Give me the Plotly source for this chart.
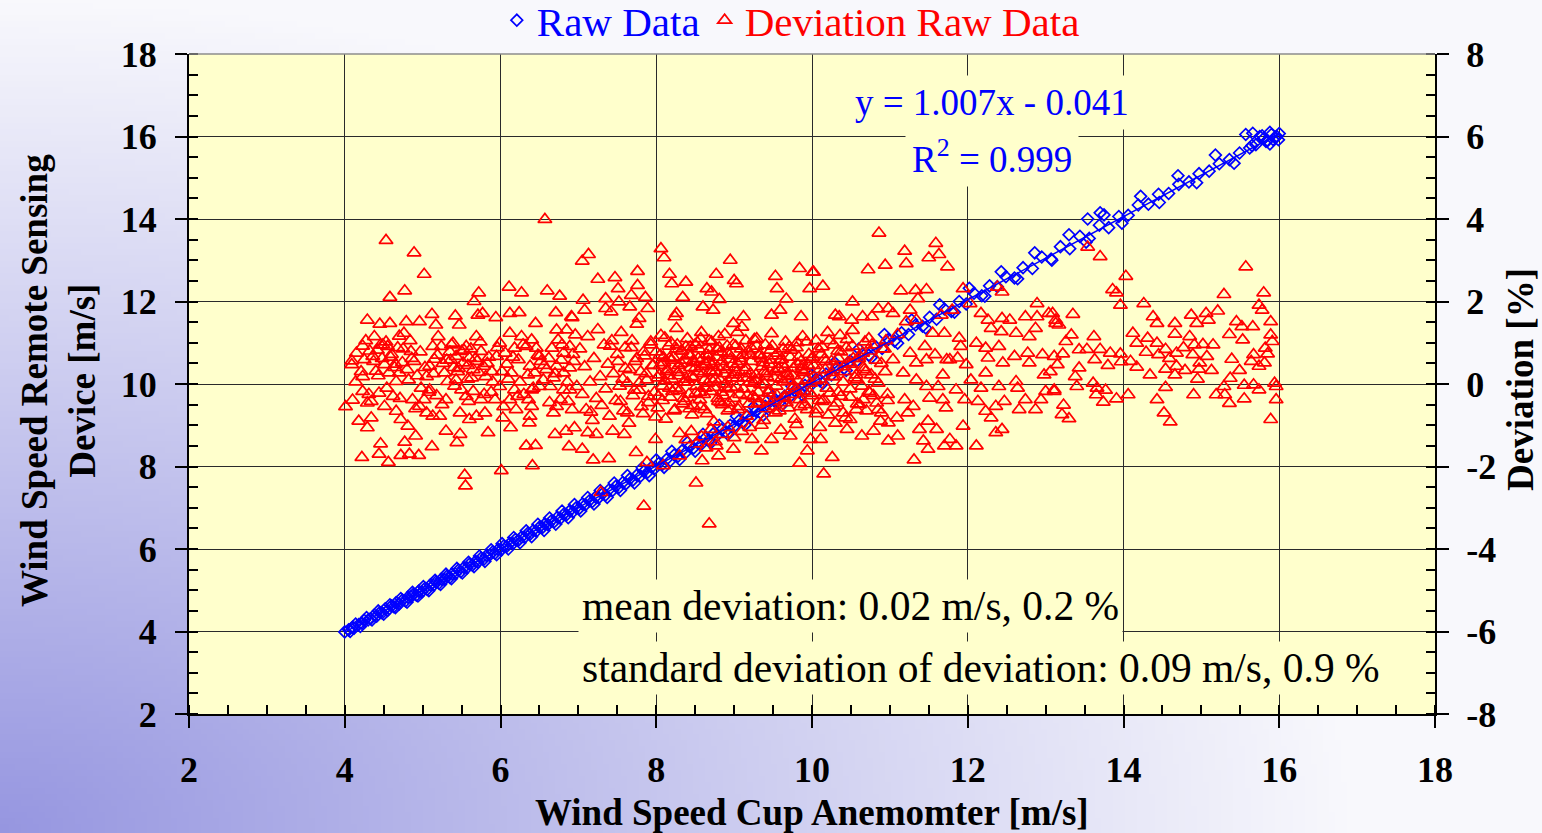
import base64
import struct
import zlib
import plotly.graph_objects as go

# ------------------------------------------------------------------ data
# Raw data: cup anemometer speed (x) vs remote sensing device speed (y), m/s
raw_x = [
    4.00, 4.05, 4.10, 4.12, 4.18, 4.22, 4.25, 4.30, 4.33, 4.38,
    4.41, 4.45, 4.48, 4.52, 4.55, 4.60, 4.63, 4.66, 4.70, 4.74,
    4.78, 4.81, 4.85, 4.88, 4.92, 4.95, 4.99, 5.03, 5.06, 5.10,
    5.14, 5.17, 5.21, 5.24, 5.28, 5.31, 5.35, 5.38, 5.42, 5.46,
    5.49, 5.53, 5.57, 5.60, 5.64, 5.68, 5.71, 5.75, 5.79, 5.82,
    5.86, 5.90, 5.93, 5.97, 6.01, 6.04, 6.08, 6.12, 6.16, 6.19,
    6.23, 6.27, 6.31, 6.35, 6.38, 6.42, 6.46, 6.50, 6.54, 6.57,
    6.61, 6.65, 6.69, 6.73, 6.77, 6.81, 6.85, 6.89, 6.93, 6.97,
    7.01, 7.05, 7.09, 7.14, 7.18, 7.22, 7.26, 7.31, 7.35, 7.39,
    7.44, 7.48, 7.52, 7.57, 7.61, 7.66, 7.70, 7.75, 7.80, 7.84,
    7.89, 7.94, 7.98, 8.03, 8.08, 8.13, 8.18, 8.23, 8.28, 8.33,
    8.38, 8.43, 8.48, 8.53, 8.58, 8.63, 8.68, 8.73, 8.78, 8.84,
    8.89, 8.95, 9.00, 9.06, 9.11, 9.17, 9.22, 9.28, 9.34, 9.40,
    9.46, 9.52, 9.58, 9.65, 9.71, 9.78, 9.84, 9.91, 9.97, 10.04,
    10.10, 10.18, 10.25, 10.33, 10.41, 10.49, 10.57, 10.65, 10.73, 10.82,
    10.90, 10.98, 11.06, 11.15, 11.24, 11.33, 11.42, 11.51, 11.60, 11.70,
    11.79, 11.89, 11.98, 12.08, 12.18, 12.28, 12.38, 12.49, 12.60, 12.71,
    12.83, 12.95, 13.07, 13.19, 13.31, 13.44, 13.54, 13.56, 13.69, 13.70,
    13.81, 13.94, 14.06, 14.19, 14.32, 14.45, 14.58, 14.71, 14.84, 14.97,
    15.10, 15.23, 15.36, 15.49, 15.57, 15.62, 15.65, 15.70, 15.75, 15.78,
    15.80, 15.83, 15.85, 15.88, 15.90, 15.92, 15.95, 15.97, 16.00,
]
raw_y = [
    3.99, 4.04, 4.10, 4.08, 4.17, 4.20, 4.27, 4.28, 4.31, 4.40,
    4.37, 4.46, 4.45, 4.55, 4.51, 4.62, 4.60, 4.70, 4.67, 4.76,
    4.74, 4.83, 4.84, 4.90, 4.88, 4.98, 4.96, 5.05, 5.02, 5.13,
    5.12, 5.20, 5.17, 5.27, 5.26, 5.34, 5.31, 5.40, 5.40, 5.49,
    5.45, 5.55, 5.54, 5.63, 5.61, 5.70, 5.68, 5.78, 5.76, 5.84,
    5.85, 5.93, 5.90, 5.99, 5.98, 6.07, 6.06, 6.14, 6.13, 6.23,
    6.21, 6.29, 6.28, 6.38, 6.36, 6.45, 6.43, 6.53, 6.52, 6.61,
    6.59, 6.68, 6.66, 6.77, 6.74, 6.84, 6.83, 6.93, 6.90, 7.00,
    6.98, 7.09, 7.07, 7.17, 7.15, 7.26, 7.24, 7.34, 7.31, 7.43,
    7.42, 7.52, 7.49, 7.61, 7.58, 7.70, 7.67, 7.79, 7.77, 7.88,
    7.86, 7.98, 7.95, 8.07, 8.05, 8.17, 8.14, 8.28, 8.25, 8.38,
    8.34, 8.48, 8.45, 8.58, 8.54, 8.69, 8.64, 8.79, 8.75, 8.89,
    8.85, 9.00, 8.97, 9.11, 9.08, 9.22, 9.19, 9.34, 9.30, 9.46,
    9.43, 9.58, 9.55, 9.71, 9.68, 9.84, 9.81, 9.97, 9.94, 10.10,
    10.08, 10.24, 10.22, 10.40, 10.38, 10.56, 10.55, 10.73, 10.70, 10.90,
    10.86, 11.08, 11.04, 11.24, 11.20, 11.43, 11.40, 11.62, 11.57, 11.82,
    11.76, 12.00, 11.94, 12.20, 12.14, 12.38, 12.36, 12.60, 12.57, 12.82,
    12.80, 13.08, 13.03, 13.33, 13.28, 13.58, 14.00, 13.53, 13.85, 14.15,
    13.79, 14.06, 14.09, 14.34, 14.36, 14.60, 14.62, 14.84, 14.90, 15.10,
    15.16, 15.34, 15.44, 15.60, 16.05, 15.72, 15.78, 15.80, 16.00, 16.02,
    15.95, 15.88, 15.90, 16.10, 16.05, 15.93, 15.98, 16.00, 16.07,
]
# further raw data points, spread across the band
raw_x_b = [
    4.07, 4.14, 4.20, 4.28, 4.35, 4.43, 4.50, 4.58, 4.65, 4.72,
    4.80, 4.87, 4.94, 5.01, 5.08, 5.16, 5.23, 5.30, 5.37, 5.44,
    5.51, 5.59, 5.66, 5.73, 5.80, 5.88, 5.95, 6.02, 6.10, 6.17,
    6.25, 6.33, 6.40, 6.48, 6.56, 6.63, 6.71, 6.79, 6.87, 6.95,
    7.03, 7.12, 7.20, 7.28, 7.37, 7.46, 7.54, 7.63, 7.72, 7.82,
    7.91, 8.00, 8.10, 8.20, 8.30, 8.40, 8.50, 8.60, 8.70, 8.81,
    8.92, 9.03, 9.14, 9.25, 9.37, 9.49, 9.61, 9.74, 9.87, 10.00,
    10.14, 10.29, 10.44, 10.60, 10.76, 10.93, 11.10, 11.28, 11.46, 11.64,
    11.83, 12.02, 12.22, 12.43, 12.64, 12.86, 13.08, 13.30, 13.52, 13.75,
    13.98, 14.22, 14.46, 14.70, 14.94, 15.18, 15.42, 15.66, 15.88, 15.99,
]
raw_y_b = [
    4.00, 4.18, 4.12, 4.34, 4.28, 4.50, 4.42, 4.65, 4.58, 4.80,
    4.71, 4.95, 4.86, 5.09, 4.99, 5.24, 5.14, 5.39, 5.28, 5.53,
    5.42, 5.68, 5.57, 5.83, 5.70, 5.98, 5.86, 6.13, 6.00, 6.28,
    6.15, 6.44, 6.30, 6.60, 6.45, 6.75, 6.60, 6.92, 6.76, 7.08,
    6.92, 7.25, 7.09, 7.42, 7.25, 7.60, 7.42, 7.78, 7.60, 7.97,
    7.78, 8.16, 7.98, 8.37, 8.17, 8.58, 8.37, 8.78, 8.57, 9.00,
    8.78, 9.22, 9.01, 9.45, 9.24, 9.70, 9.48, 9.95, 9.74, 10.22,
    10.02, 10.52, 10.33, 10.85, 10.64, 11.20, 10.99, 11.55, 11.36, 11.92,
    11.74, 12.32, 12.13, 12.72, 12.55, 13.18, 13.00, 13.62, 13.44, 14.10,
    13.90, 14.55, 14.40, 15.05, 14.88, 15.55, 15.35, 16.08, 15.82, 15.92,
]

# Deviation of raw data [%], by region of cup wind speed
dev_x_low = [
    4.53, 4.89, 5.02, 4.58, 4.77, 6.57, 5.72, 5.66, 6.11, 6.27,
    6.60, 6.76, 4.29, 4.45, 4.58, 4.79, 4.96, 5.12, 5.17, 5.42,
    5.47, 5.71, 5.77, 5.94, 6.12, 6.24, 6.45, 6.71, 6.92, 4.22,
    4.44, 4.56, 4.72, 4.83, 4.95, 4.46, 4.77, 4.91, 5.12, 5.44,
    5.48, 5.54, 5.55, 6.01, 6.41, 5.84, 6.13, 6.33, 6.45, 6.88,
    6.70, 6.84, 6.95, 4.01, 4.10, 4.09, 4.09, 4.23, 4.25, 4.23,
    4.23, 4.29, 4.34, 4.29, 4.38, 4.46, 4.55, 4.36, 4.40, 4.51,
    4.57, 4.66, 4.70, 4.76, 4.85, 4.89, 4.70, 4.44, 4.34, 4.51,
    4.66, 4.72, 4.81, 4.87, 4.96, 5.02, 5.09, 5.05, 5.09, 5.13,
    5.20, 5.24, 5.28, 5.32, 5.30, 5.22, 5.30, 5.13, 5.05, 5.39,
    5.43, 5.50, 5.52, 5.56, 5.60, 5.65, 5.69, 5.75, 5.78, 5.81,
    5.43, 5.50, 5.56, 5.65, 5.75, 5.80, 5.48, 5.60, 5.69, 5.93,
    5.99, 5.95, 5.99, 6.06, 6.12, 6.18, 6.23, 6.14, 6.18, 6.12,
    6.20, 6.03, 6.27, 6.33, 6.40, 6.46, 6.50, 6.38, 6.44, 6.55,
    6.40, 6.50, 6.64, 6.36, 6.40, 6.38, 6.37, 6.68, 6.72, 6.77,
    6.87, 6.81, 6.89, 6.98, 6.59, 6.72, 6.81, 6.89, 6.66, 6.74,
    6.81, 6.89, 6.96, 6.85, 6.72,
    4.42, 4.48, 4.53, 4.60, 4.64, 4.68, 4.74, 4.80, 4.84, 4.93,
    4.98, 5.15, 5.26, 5.35, 5.45, 5.58, 5.62, 5.70, 5.85, 5.90,
    5.40, 5.36, 5.58, 5.72, 5.88, 6.02, 6.08, 6.25, 6.30, 6.52,
    6.62, 6.68, 6.78, 6.93, 4.62, 4.18, 4.14, 4.32, 5.18, 6.92,
    4.15, 4.21, 4.27, 4.31, 4.37, 4.43, 4.49, 4.54, 4.59, 4.65,
    4.71, 4.75, 4.82, 4.86, 4.91, 4.97, 5.03, 5.08, 5.14, 5.19,
    5.25, 5.31, 5.37, 5.41, 5.46, 5.53, 5.59, 5.63, 5.68, 5.74,
    5.79, 5.83, 5.89, 5.96, 6.04, 6.10, 6.16, 6.22, 6.29, 6.35,
    6.42, 6.48, 6.56, 6.63, 6.70, 6.79, 6.86, 6.94, 7.16, 7.41,
]
dev_low = [
    3.48, 3.18, 2.66, 2.10, 2.26, 3.99, 2.21, 2.00, 2.35, 2.21,
    2.26, 2.13, 1.55, 1.45, 1.47, 1.51, 1.51, 1.69, 1.43, 1.65,
    1.43, 1.67, 1.71, 1.61, 1.71, 1.73, 1.47, 1.73, 1.61, -1.78,
    -1.70, -1.90, -1.73, -1.70, -1.73, -1.45, -1.41, -1.26, -1.52, -1.42,
    -1.22, -2.21, -2.47, -2.10, -1.98, -1.18, -1.06, -1.50, -1.49, -1.52,
    -1.22, -1.14, -1.06, -0.55, -0.39, 0.56, 0.47, 0.92, 0.59, 0.18,
    -0.18, -0.46, -0.82, -1.06, 1.15, 0.95, 0.91, 0.67, 0.31, 0.47,
    0.27, 0.06, 1.16, 1.23, 0.79, 0.55, 0.27, -0.22, -0.42, -0.54,
    -0.66, -0.86, -1.02, -0.38, -0.54, -0.38, -0.14, 0.18, 0.43, 0.91,
    1.15, 0.91, 0.27, 0.06, -0.38, -0.78, -1.14, -0.78, -0.70, 0.99,
    0.67, 0.79, 0.51, 0.91, 0.63, 0.35, 1.15, 0.79, 0.43, 0.18,
    0.10, -0.14, -0.30, -0.18, -0.38, -0.70, -0.70, -0.86, -0.78, -0.38,
    -0.06, 0.67, 0.99, 0.75, 1.23, 0.87, 0.59, 0.27, -0.14, -0.38,
    -0.62, -0.82, 1.15, 0.91, 1.07, 0.87, 0.67, 0.43, 0.27, 0.10,
    -0.14, -0.06, -0.06, -0.38, -0.54, -0.78, -0.94, -0.70, -0.54, -0.38,
    -0.42, -0.14, -0.14, -0.06, 0.35, 0.43, 0.27, 0.39, 0.87, 1.07,
    0.75, 0.91, 1.19, 1.31, 1.31,
    0.82, 0.62, 1.02, 0.72, 0.40, 0.88, 0.52, 0.35, 1.05, 0.20,
    -0.10, 0.60, 0.50, 0.78, 0.30, 0.12, 0.85, 0.55, 0.65, 0.05,
    0.40, 0.58, 0.45, 0.28, -0.20, 0.30, 0.48, 0.05, -0.25, 0.55,
    0.62, 0.15, 0.58, 0.72, -0.30, -0.90, 0.05, 0.80, -0.28, -0.62,
    0.75, 0.30, 1.05, -0.25, 0.55, 0.20, 0.95, -0.10, 0.65, 0.48,
    -0.35, 0.85, 0.10, 0.62, -0.60, 0.78, 0.40, -0.20, 0.25, 0.70,
    -0.50, 0.58, 0.95, -0.05, 0.38, 0.82, -0.42, 0.15, 0.62, 1.02,
    -0.25, 0.50, 0.30, 0.88, -0.55, 0.12, 0.65, -0.30, 0.95, 0.22,
    -0.10, 0.70, 0.45, -0.45, 0.25, 0.95, 0.05, 0.55, -0.68, 0.92,
]

dev_x_mid = [
    7.13, 7.05, 7.25, 7.47, 7.51, 7.76, 7.76, 7.68, 7.86, 7.52,
    7.35, 7.06, 8.06, 8.10, 8.17, 8.20, 8.38, 8.34, 8.77, 8.95,
    9.00, 9.03, 8.65, 8.71, 8.81, 9.53, 9.55, 9.67, 9.84, 10.01,
    9.97, 9.59, 9.48, 9.86, 9.12, 8.99, 8.73, 8.60, 8.26, 8.24,
    7.89, 7.78, 7.66, 7.42, 7.35, 7.08, 6.91, 7.29, 7.84, 8.68,
    8.51, 9.84, 9.94, 9.35, 8.99, 8.80, 8.59, 8.30, 8.09, 7.88,
    7.74, 7.39, 7.19, 7.05, 7.99, 7.59, 7.44, 7.23, 7.12, 9.48,
    9.72, 9.23, 9.98, 8.77,
    8.30, 8.38, 8.45, 8.52, 8.58, 8.64, 8.70, 8.76, 8.85, 8.92,
    9.00, 9.10, 9.20, 9.35, 9.60, 9.80, 10.10, 10.30,
]
dev_mid = [
    3.14, 2.98, 2.54, 2.58, 2.31, 2.73, 2.39, 2.15, 2.10, 1.99,
    2.07, 2.03, 3.28, 3.06, 2.66, 2.43, 2.47, 2.10, 2.66, 3.00,
    2.51, 2.43, 2.31, 2.23, 2.05, 2.61, 2.31, 2.06, 2.80, 2.71,
    2.31, 1.79, 1.67, 1.63, 1.63, 1.47, 1.79, 1.87, 1.71, 1.63,
    1.83, 1.59, 1.87, 1.75, 1.83, 1.79, 1.63, -2.63, -2.96, -3.39,
    -2.40, -1.92, -1.62, -1.62, -1.58, -1.74, -1.86, -1.74, -1.98, -1.90,
    -1.66, -1.81, -1.84, -1.58, -1.34, -1.22, -1.14, -1.22, -1.18, -1.34,
    -1.26, -1.34, -1.34, -1.50,
    -1.20, -1.35, -1.15, -1.45, -1.28, -1.55, -1.10, -1.40, -1.22, -1.05,
    -1.30, -1.15, -1.05, -1.00, -1.12, -0.98, -1.05, -0.95,
]

dev_x_core = [
    7.02, 7.05, 7.08, 7.10, 7.12, 7.15, 7.18, 7.20, 7.23, 7.25,
    7.28, 7.30, 7.33, 7.35, 7.38, 7.40, 7.43, 7.45, 7.48, 7.50,
    7.53, 7.55, 7.58, 7.60, 7.63, 7.65, 7.68, 7.70, 7.73, 7.75,
    7.78, 7.80, 7.83, 7.85, 7.88, 7.90, 7.93, 7.95, 7.98, 8.00,
    8.02, 8.04, 8.06, 8.08, 8.10, 8.12, 8.14, 8.16, 8.18, 8.20,
    8.22, 8.24, 8.26, 8.28, 8.30, 8.32, 8.34, 8.36, 8.38, 8.40,
    8.42, 8.44, 8.46, 8.48, 8.50, 8.52, 8.54, 8.56, 8.58, 8.60,
    8.62, 8.64, 8.66, 8.68, 8.70, 8.72, 8.74, 8.76, 8.78, 8.80,
    8.82, 8.84, 8.86, 8.88, 8.90, 8.92, 8.94, 8.96, 8.98, 9.00,
    9.02, 9.04, 9.06, 9.08, 9.10, 9.12, 9.14, 9.16, 9.18, 9.20,
    9.22, 9.24, 9.26, 9.28, 9.30, 9.32, 9.34, 9.36, 9.38, 9.40,
    9.42, 9.44, 9.46, 9.48, 9.50, 9.52, 9.54, 9.56, 9.58, 9.60,
    9.62, 9.64, 9.66, 9.68, 9.70, 9.72, 9.74, 9.76, 9.78, 9.80,
    9.82, 9.84, 9.86, 9.88, 9.90, 9.92, 9.94, 9.96, 9.98, 10.00,
    10.02, 10.05, 10.08, 10.10, 10.13, 10.16, 10.19, 10.22, 10.25, 10.28,
    10.31, 10.34, 10.37, 10.40, 10.43, 10.46, 10.49, 10.52, 10.55, 10.58,
    10.61, 10.64, 10.67, 10.70, 10.73, 10.76, 10.79, 10.82, 10.85, 10.88,
    10.91, 10.94, 10.97,
    8.05, 8.11, 8.17, 8.21, 8.27, 8.31, 8.37, 8.41, 8.45, 8.51,
    8.55, 8.59, 8.63, 8.67, 8.71, 8.75, 8.79, 8.83, 8.87, 8.91,
    8.95, 8.99, 9.03, 9.07, 9.11, 9.15, 9.19, 9.23, 9.27, 9.31,
    9.35, 9.39, 9.43, 9.47, 9.51, 9.55, 9.59, 9.63, 9.67, 9.71,
    9.75, 9.79, 9.83, 9.87, 9.91, 9.95, 8.35, 8.47, 8.57, 8.69,
    8.81, 8.93, 9.05, 9.17, 9.29, 9.41, 9.53, 9.65,
    7.51, 7.54, 7.57, 7.60, 7.63, 7.66, 7.69, 7.72, 7.75, 7.78,
    7.81, 7.84, 7.87, 7.90, 7.93, 7.96, 7.99, 8.02, 8.05, 8.08,
    8.11, 8.14, 8.17, 8.20, 8.23, 8.26, 8.29, 8.32, 8.35, 8.38,
    8.41, 8.44, 8.47, 8.50, 8.53, 8.56, 8.59, 8.62, 8.65, 8.68,
    8.71, 8.74, 8.77, 8.80, 8.83, 8.86, 8.89, 8.92, 8.95, 8.98,
    9.01, 9.05, 9.09, 9.13, 9.17, 9.21, 9.25, 9.29, 9.33, 9.37,
    9.41, 9.45, 9.49, 9.53, 9.57, 9.61, 9.65, 9.69, 9.73, 9.77,
    9.81, 9.85, 9.89, 9.93, 9.97, 10.01, 10.05, 10.09, 10.13, 10.17,
    10.21, 10.25, 10.29, 10.33, 10.37, 10.41, 10.45, 10.49, 10.53, 10.57,
    10.61, 10.65, 10.69, 10.73, 10.77, 10.81, 10.85, 10.89, 10.93, 10.97,
    8.03, 8.09, 8.15, 8.19, 8.25, 8.29, 8.33, 8.39, 8.43, 8.49,
    8.53, 8.57, 8.61, 8.67, 8.73, 8.79, 8.85, 8.91, 8.97, 9.03,
    9.09, 9.15, 9.21, 9.27, 9.33, 9.39, 9.45, 9.51, 9.57, 9.63,
    9.69, 9.75, 9.81, 9.87, 9.93, 9.99, 8.44, 8.64, 8.84, 9.04,
]
dev_core = [
    0.85, -0.25, 0.42, -0.62, 1.15, 0.05, -0.88, 0.62, -0.35, 1.32,
    0.18, -0.52, 0.95, -0.12, 0.48, -0.78, 1.05, 0.25, -0.40, 0.72,
    -0.05, 1.25, -0.65, 0.38, 0.02, -0.95, 0.88, -0.28, 0.55, 1.45,
    -0.15, 0.30, -0.72, 0.68, 0.10, -0.45, 1.02, 0.45, -0.20, 0.78,
    -0.58, 0.22, 1.18, -0.05, 0.52, -0.85, 0.35, 0.92, -0.32, 0.12,
    0.65, -0.62, 1.35, 0.28, -0.15, 0.80, -0.48, 0.05, 0.58, 1.10,
    -0.25, 0.40, -0.75, 0.15, 0.95, -0.05, 0.62, -0.38, 1.25, 0.25,
    -0.62, 0.72, 0.02, 1.05, -0.18, 0.45, -0.92, 0.30, 0.85, -0.42,
    0.10, 0.55, -0.28, 1.20, 0.35, -0.65, 0.70, -0.08, 0.48, -0.35,
    0.92, 0.15, -0.55, 0.62, 1.38, -0.12, 0.32, -0.78, 0.80, 0.05,
    0.55, -0.30, 1.08, 0.22, -0.48, 0.68, -0.02, 0.42, -0.88, 0.95,
    0.18, -0.22, 0.58, 1.22, -0.42, 0.30, -0.05, 0.75, -0.65, 0.12,
    0.48, -0.32, 1.02, 0.25, -0.58, 0.65, -0.12, 0.38, -0.85, 0.88,
    0.08, -0.38, 0.55, 1.15, -0.18, 0.32, -0.62, 0.72, 0.02, -0.28,
    0.45, -0.72, 0.85, 0.12, -0.42, 0.60, -0.10, 1.05, 0.28, -0.55,
    0.40, -0.20, 0.78, 0.05, -0.82, 0.52, -0.32, 0.92, 0.15, -0.48,
    0.68, -0.05, 0.35, -0.65, 1.10, 0.22, -0.28, 0.58, 0.02, -0.90,
    0.85, 0.30, -0.40,
    0.45, 0.08, 0.62, -0.18, 0.95, 0.35, -0.42, 0.72, 0.18, -0.22,
    0.85, 0.42, -0.10, 0.55, 1.02, 0.12, -0.35, 0.78, 0.25, -0.12,
    0.60, 0.95, 0.28, -0.25, 0.70, 0.40, -0.48, 0.85, 0.10, -0.20,
    0.62, 0.30, -0.38, 0.82, 0.15, -0.28, 0.58, 0.05, -0.45, 0.90,
    0.20, -0.15, 0.65, 0.35, -0.50, 0.45, 0.05, 0.55, -0.55, 0.32,
    0.88, -0.45, 0.48, 0.15, 0.92, -0.60, 0.68, 0.38,
    0.55, -0.42, 0.12, 0.88, -0.70, 0.35, 1.05, -0.15, 0.62, 0.02,
    -0.55, 0.78, 0.25, -0.30, 0.95, 0.45, -0.80, 0.15, 0.70, -0.40,
    1.12, 0.30, -0.10, 0.58, -0.65, 0.85, 0.20, 0.50, -0.35, 0.90,
    0.05, 0.68, -0.52, 0.38, 1.00, -0.20, 0.60, 0.10, -0.72, 0.82,
    0.28, -0.08, 0.65, 1.15, -0.45, 0.42, 0.00, 0.75, -0.60, 0.22,
    0.40, -0.62, 0.85, 0.15, -0.28, 0.70, 0.02, 1.10, -0.45, 0.52,
    0.25, -0.15, 0.92, -0.70, 0.38, 0.60, -0.35, 0.10, 0.82, -0.05,
    0.48, -0.55, 0.28, 1.02, -0.22, 0.65, 0.08, -0.40, 0.90, 0.35,
    -0.75, 0.55, 0.18, 0.80, -0.30, 0.42, 1.08, -0.12, 0.62, 0.22,
    -0.50, 0.75, 0.30, -0.18, 0.95, 0.12, -0.62, 0.50, 0.85, -0.25,
    -0.30, 0.65, 0.20, 1.00, -0.10, 0.45, 0.80, 0.12, -0.60, 0.52,
    0.30, 1.10, -0.25, 0.68, 0.05, 0.40, -0.50, 0.92, 0.15, -0.08,
    0.55, 1.05, 0.25, -0.35, 0.72, 0.00, 0.48, -0.55, 0.35, 0.85,
    0.18, -0.25, 1.00, 0.42, 0.10, 0.60, 0.90, 0.48, -0.20, 1.25,
]

dev_x_upper = [
    10.86, 11.59, 11.19, 11.50, 11.63, 10.72, 10.94, 11.21, 11.74, 10.14,
    10.02, 11.14, 11.33, 11.47, 10.52, 11.94, 12.38, 12.44, 11.36, 10.98,
    10.85, 11.26, 10.30, 10.35, 10.51, 10.65, 10.77, 11.04, 11.21, 11.34,
    11.66, 11.80, 12.03, 11.70, 11.55, 11.89, 11.91, 12.11, 12.17, 12.26,
    12.44, 12.54, 12.30, 12.43, 12.62, 12.74, 12.89, 12.89, 13.04, 13.13,
    12.87, 12.79, 12.40, 12.23, 12.26, 12.45, 12.60, 12.77, 12.96, 13.11,
    12.98, 12.79, 12.62, 12.64, 12.40, 12.17, 12.23, 12.04, 11.98, 11.87,
    11.77, 11.68, 11.62, 11.85, 11.96, 12.13, 12.23, 12.30, 12.36, 12.47,
    12.66, 12.74, 12.87, 12.94, 13.00, 13.11, 12.36, 12.44, 12.11, 11.85,
    11.77, 11.70, 11.94, 11.49, 11.43, 11.31, 10.98, 11.10, 10.64, 10.79,
    10.26, 10.15, 10.11, 10.45, 11.38, 11.60, 11.49, 11.04, 11.26, 11.34,
    11.47, 11.45, 11.58, 11.73, 11.17, 11.34, 11.47, 11.51, 11.68, 11.72,
    11.30, 11.19, 11.23, 11.09, 10.98, 10.89, 10.83, 10.74, 10.66, 10.57,
    10.49, 10.40, 10.32, 10.23, 10.15, 10.06,
    10.05, 10.12, 10.20, 10.28, 10.36, 10.44, 10.52, 10.60, 10.68, 10.75,
    10.10, 10.18, 10.26, 10.34, 10.42, 10.50, 10.58, 10.66, 10.95, 11.10,
]
dev_upper = [
    3.66, 3.41, 3.22, 3.06, 3.14, 2.77, 2.88, 2.92, 2.84, 2.37,
    2.71, 2.26, 2.27, 2.29, 1.99, 2.31, 2.35, 2.23, 2.07, 1.83,
    1.82, 1.79, 1.67, 1.63, 1.55, 1.63, 1.63, 1.71, 1.51, 1.55,
    1.67, 1.79, 1.95, 1.23, 1.23, 1.11, 0.91, 0.99, 1.71, 1.55,
    1.59, 1.55, 1.35, 1.27, 1.23, 1.63, 1.95, 1.63, 1.71, 1.47,
    1.35, 1.15, 0.91, 0.87, 0.63, 0.51, 0.67, 0.75, 0.71, 0.67,
    0.22, 0.51, 0.06, -0.10, -0.06, -0.10, 0.27, 0.10, 0.47, 0.63,
    0.59, 0.22, -0.06, -0.14, -0.38, -0.42, -0.66, -0.82, -0.54, -0.42,
    -0.62, -0.38, -0.62, -0.38, -0.18, -0.14, -1.18, -1.10, -1.50, -1.50,
    -1.34, -1.50, -1.02, -1.58, -1.38, -1.84, -1.38, -1.26, -1.26, -1.14,
    -1.78, -2.18, -1.34, -1.10, -1.10, -1.10, -0.90, 0.59, 0.75, 0.51,
    0.59, 0.91, 0.71, 0.59, 0.27, 0.10, -0.06, -0.34, -0.38, -0.58,
    -0.54, -0.38, -0.70, -0.82, -0.94, -0.70, -0.46, -0.22, -0.38, -0.62,
    -0.86, -0.70, -0.46, -0.22, -0.38, -0.62,
    1.05, 0.72, 1.25, 0.95, 1.18, 0.88, 1.30, 0.62, 1.02, 0.80,
    0.35, 0.55, 0.18, 0.62, 0.30, 0.48, 0.10, 0.40, 1.05, 1.20,
]

dev_x_high = [
    13.54, 13.70, 14.03, 13.86, 13.91, 13.96, 14.26, 15.29, 15.57, 15.80,
    15.74, 15.78, 13.35, 13.09, 13.17, 14.38, 14.43, 14.66, 14.66, 14.87,
    14.94, 15.06, 15.09, 15.21, 15.45, 15.52, 15.66, 15.89, 15.36, 15.53,
    15.89, 15.91, 13.33, 13.62, 13.26, 13.53, 13.70, 13.43, 13.22, 13.15,
    13.63, 13.83, 13.96, 13.97, 14.09, 14.12, 14.17, 14.31, 14.43, 14.29,
    14.45, 14.54, 14.59, 14.68, 14.77, 14.85, 14.91, 14.89, 15.02, 15.15,
    15.07, 14.98, 14.97, 14.79, 14.68, 14.66, 14.54, 14.17, 14.34, 13.80,
    13.43, 13.38, 13.40, 13.61, 13.66, 13.77, 13.65, 13.74, 13.91, 14.06,
    13.11, 13.23, 13.21, 13.30, 14.43, 14.54, 14.52, 14.60, 14.90, 14.95,
    15.13, 15.19, 15.30, 15.29, 15.36, 15.37, 15.39, 15.49, 15.55, 15.55,
    15.67, 15.74, 15.64, 15.67, 15.74, 15.81, 15.85, 15.82, 15.94, 15.96,
    15.96, 15.89, 13.13, 13.06,
]
dev_high = [
    3.32, 3.09, 2.61, 2.29, 2.21, 1.91, 1.95, 2.17, 2.84, 2.21,
    1.91, 1.79, 1.69, 1.71, 1.43, 1.63, 1.47, 1.47, 1.21, 1.67,
    1.47, 1.71, 1.55, 1.77, 1.51, 1.39, 1.39, 1.51, 1.20, 1.07,
    1.19, 1.03, 1.19, 1.15, 1.03, 0.84, 0.84, 0.83, 0.73, 0.47,
    0.59, 0.75, 0.73, 0.54, 0.55, 1.23, 0.99, 1.11, 0.99, 0.77,
    0.71, 0.84, 0.62, 0.75, 0.88, 1.15, 0.95, 0.71, 0.96, 0.95,
    0.67, 0.51, 0.36, 0.33, 0.43, 0.22, 0.36, 0.41, 0.22, 0.45,
    0.39, 0.18, -0.06, 0.02, -0.10, -0.15, -0.26, -0.44, -0.36, -0.26,
    -0.18, -0.51, -0.74, -0.84, -0.38, -0.08, -0.70, -0.92, -0.26, 0.12,
    0.33, -0.26, -0.26, -0.06, -0.47, 0.14, 0.60, 0.33, -0.03, -0.36,
    -0.02, -0.14, 0.55, 0.71, 0.43, 0.51, 0.73, 0.87, 0.02, -0.06,
    -0.38, -0.86, 1.55, 0.30,
]

# Trend line end points (y = 1.007x - 0.041)
trend_x = [4.0, 16.0]
trend_y = [3.987, 16.071]

# Axis ticks
x_ticks = [2, 4, 6, 8, 10, 12, 14, 16, 18]
y_ticks = [2, 4, 6, 8, 10, 12, 14, 16, 18]
y2_ticks = [-8, -6, -4, -2, 0, 2, 4, 6, 8]
y2_ticktext = ["-8", "-6", "-4", "-2", "0", "2", "4", "6", "8"]

all_raw_x = raw_x + raw_x_b
all_raw_y = raw_y + raw_y_b
dev_x = dev_x_low + dev_x_mid + dev_x_core + dev_x_upper + dev_x_high
dev_pct = dev_low + dev_mid + dev_core + dev_upper + dev_high

# ------------------------------------------------------------------ background gradient
W_FIG, H_FIG = 1542, 833
M_L, M_R, M_T, M_B = 189, 107, 54, 119
PW = W_FIG - M_L - M_R
PH = H_FIG - M_T - M_B


def gradient_png(w=257, h=139):
    rows = []
    for j in range(h):
        py = (j + 0.5) * H_FIG / h
        row = bytearray([0])
        for i in range(w):
            px = (i + 0.5) * W_FIG / w
            d = ((px / 1350.0) ** 2 + ((H_FIG - py) / 830.0) ** 2) ** 0.5
            s = max(0.0, 1.0 - d)
            r = int(round(248 - 98 * s))
            b = int(round(252 - 28 * s))
            row += bytes((r, r, b))
        rows.append(bytes(row))
    raw = b"".join(rows)

    def chunk(tag, data):
        return (struct.pack(">I", len(data)) + tag + data
                + struct.pack(">I", zlib.crc32(tag + data) & 0xFFFFFFFF))

    png = (b"\x89PNG\r\n\x1a\n"
           + chunk(b"IHDR", struct.pack(">IIBBBBB", w, h, 8, 2, 0, 0, 0))
           + chunk(b"IDAT", zlib.compress(raw, 9))
           + chunk(b"IEND", b""))
    return "data:image/png;base64," + base64.b64encode(png).decode()


SERIF = "Liberation Serif, Times New Roman, serif"

fig = go.Figure()
fig.add_trace(go.Scatter(
    x=all_raw_x, y=all_raw_y, mode="markers",
    name="<span style='color:#0000FF'>Raw Data</span>",
    marker=dict(symbol="diamond-open", size=9, color="#0000FF", line=dict(width=1.7)),
    xaxis="x", yaxis="y",
))
fig.add_trace(go.Scatter(
    x=dev_x, y=dev_pct, mode="markers",
    name="<span style='color:#FF0000'>Deviation Raw Data</span>",
    marker=dict(symbol="triangle-up-open", size=12, color="#FF0000", line=dict(width=1.7)),
    xaxis="x", yaxis="y2",
))
fig.add_trace(go.Scatter(
    x=trend_x, y=trend_y, mode="lines", showlegend=False,
    line=dict(color="#0000FF", width=1.5),
    xaxis="x", yaxis="y3", hoverinfo="skip",
))

axis_common = dict(
    ticks="outside", ticklen=12, tickwidth=2, tickcolor="black",
    showline=True, linecolor="black", linewidth=2,
    zeroline=False, automargin=False,
    tickfont=dict(family=SERIF, size=36, color="black", weight="bold"),
)
minor_common = dict(dtick=0.5, ticks="inside", ticklen=9, tickwidth=1.5,
                    tickcolor="black", showgrid=False)

fig.update_layout(
    width=W_FIG, height=H_FIG,
    margin=dict(l=M_L, r=M_R, t=M_T, b=M_B, autoexpand=False),
    paper_bgcolor="#F7F7FC",
    plot_bgcolor="#FFFFCC",
    font=dict(family=SERIF, color="black"),
    showlegend=True,
    legend=dict(orientation="h", x=0.483, xanchor="center", y=1.0, yanchor="bottom",
                font=dict(family=SERIF, size=41), bgcolor="rgba(0,0,0,0)",
                itemsizing="trace"),
    xaxis=dict(range=[2, 18], tickvals=x_ticks, showgrid=True, gridcolor="#2a2a2a",
               gridwidth=1.2, minor=minor_common, ticklabelstandoff=11, **axis_common),
    yaxis=dict(range=[2, 18], tickvals=y_ticks, showgrid=True, gridcolor="#2a2a2a",
               gridwidth=1.2, minor=minor_common, ticklabelstandoff=11, **axis_common),
    yaxis2=dict(range=[-8, 8], tickvals=y2_ticks, ticktext=y2_ticktext, overlaying="y",
                side="right", showgrid=False, minor=minor_common, ticklabelstandoff=10,
                **axis_common),
    yaxis3=dict(range=[2, 18], overlaying="y", visible=False),
    images=[dict(source=gradient_png(), xref="paper", yref="paper",
                 x=-M_L / PW, y=1 + M_T / PH, sizex=W_FIG / PW, sizey=H_FIG / PH,
                 xanchor="left", yanchor="top", sizing="stretch", layer="below")],
    shapes=[
        dict(type="rect", xref="paper", yref="paper", x0=0, x1=1, y0=0, y1=1,
             fillcolor="#FFFFCC", line=dict(width=0), layer="below"),
        dict(type="line", xref="paper", yref="paper", x0=0, x1=1, y0=1, y1=1,
             line=dict(color="#8c8c8c", width=1.5), layer="above"),
    ],
    annotations=[
        dict(text="y = 1.007x - 0.041", xref="x", yref="y", x=12.31, y=16.83,
             showarrow=False, font=dict(family=SERIF, size=37, color="#0000FF"),
             bgcolor="#FFFFCC", borderpad=6),
        dict(text="R<sup>2</sup> = 0.999", xref="x", yref="y", x=12.31, y=15.52,
             showarrow=False, font=dict(family=SERIF, size=37, color="#0000FF"),
             bgcolor="#FFFFCC", borderpad=6),
        dict(text="mean deviation: 0.02 m/s, 0.2 %", xref="x", yref="y", x=7.0, y=4.62,
             xanchor="left", showarrow=False,
             font=dict(family=SERIF, size=41.5, color="black"),
             bgcolor="#FFFFCC", borderpad=3),
        dict(text="standard deviation of deviation: 0.09 m/s, 0.9 %", xref="x", yref="y",
             x=7.0, y=3.12, xanchor="left", showarrow=False,
             font=dict(family=SERIF, size=41.5, color="black"),
             bgcolor="#FFFFCC", borderpad=3),
        dict(text="Wind Speed Cup Anemomter [m/s]", xref="paper", yref="paper",
             x=0.5, y=-(812 - (M_T + PH)) / PH, xanchor="center", yanchor="middle",
             showarrow=False, font=dict(family=SERIF, size=37, color="black", weight="bold")),
        dict(text="Wind Speed Remote Sensing<br>Device [m/s]", xref="paper", yref="paper",
             x=(58 - M_L) / PW, y=(M_T + PH - 381) / PH, xanchor="center", yanchor="middle",
             textangle=-90, showarrow=False,
             font=dict(family=SERIF, size=37, color="black", weight="bold")),
        dict(text="Deviation [%]", xref="paper", yref="paper",
             x=(1520 - M_L) / PW, y=(M_T + PH - 380) / PH, xanchor="center", yanchor="middle",
             textangle=-90, showarrow=False,
             font=dict(family=SERIF, size=37, color="black", weight="bold")),
    ],
)

fig.write_html("out.html", config={"displayModeBar": False},
               post_script="document.body.style.margin='0px';")
